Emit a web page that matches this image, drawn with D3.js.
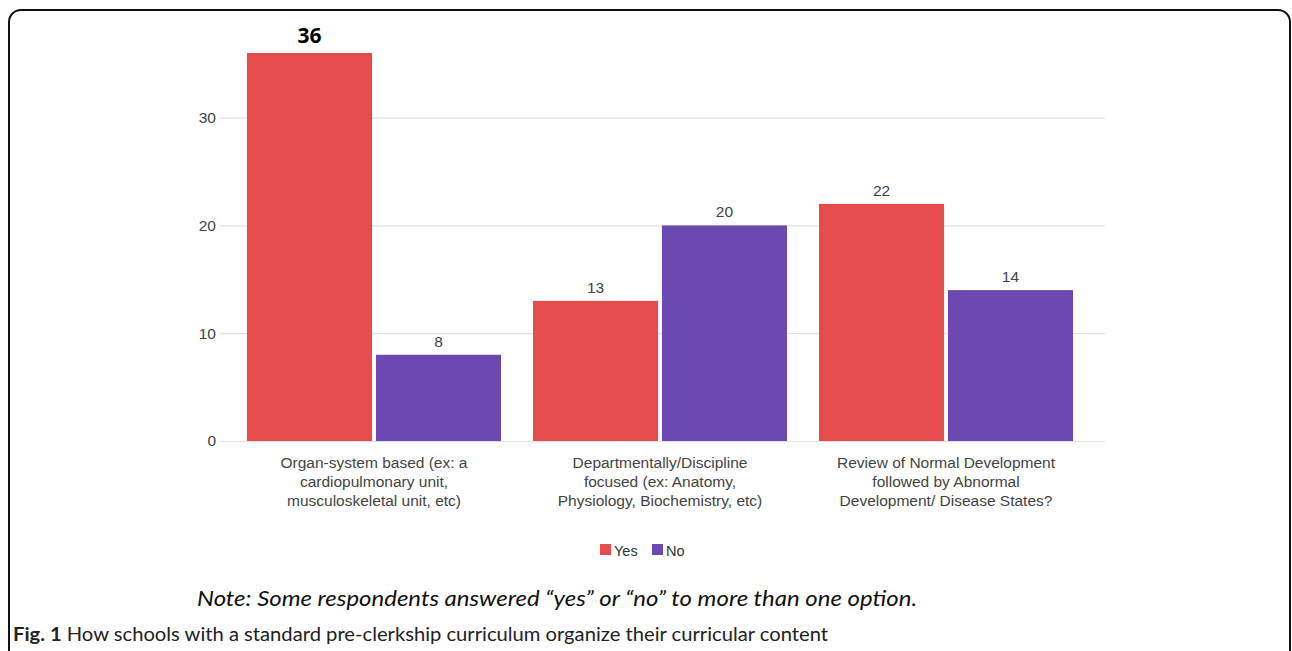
<!DOCTYPE html>
<html>
<head>
<meta charset="utf-8">
<script src="https://cdn.jsdelivr.net/npm/d3@7"></script>
<style>
body { margin: 0; background: #fff; }
svg { display: block; }
</style>
</head>
<body>
<svg width="1292" height="651"></svg>
<script>
// data
var categories = [
  ['Organ-system based (ex: a', 'cardiopulmonary unit,', 'musculoskeletal unit, etc)'],
  ['Departmentally/Discipline', 'focused (ex: Anatomy,', 'Physiology, Biochemistry, etc)'],
  ['Review of Normal Development', 'followed by Abnormal', 'Development/ Disease States?']
];
var seriesNames = ['Yes', 'No'];
var yesValues = [36, 13, 22];
var noValues = [8, 20, 14];
var yTicks = [0, 10, 20, 30];

var colors = {Yes: '#e54c4b', No: '#6c49b0'};

var svg = d3.select('svg');

// outer frame with rounded corners
svg.append('rect')
  .attr('x', 9).attr('y', 10)
  .attr('width', 1281).attr('height', 700)
  .attr('rx', 12).attr('ry', 12)
  .attr('fill', 'none')
  .attr('stroke', '#111')
  .attr('stroke-width', 2);

var rows = categories.map(function(c, i) {
  return {cat: i, Yes: yesValues[i], No: noValues[i]};
});

var y = d3.scaleLinear().domain([0, 36]).range([441, 53]);
var x0 = d3.scaleBand().domain(d3.range(categories.length)).range([231, 1089]).padding(0);
var x1 = d3.scaleBand().domain(seriesNames).range([16, x0.bandwidth() - 16]).paddingInner(0.03);

// grid + y labels
var yAxis = svg.append('g')
  .attr('transform', 'translate(220,0)')
  .call(d3.axisLeft(y).tickValues(yTicks).tickSize(-885).tickPadding(4));
yAxis.select('.domain').remove();
yAxis.selectAll('.tick line').attr('stroke', '#e2e2e2').attr('stroke-width', 1.2);
yAxis.selectAll('.tick text')
  .attr('fill', '#444')
  .style('font-family', 'Liberation Sans, Arial, sans-serif')
  .style('font-size', '15.5px');

// bars
var groups = svg.selectAll('.grp')
  .data(rows)
  .enter().append('g')
  .attr('class', 'grp')
  .attr('transform', function(d) { return 'translate(' + x0(d.cat) + ',0)'; });

groups.selectAll('rect')
  .data(function(d) { return seriesNames.map(function(s) { return {s: s, v: d[s]}; }); })
  .enter().append('rect')
  .attr('x', function(d) { return x1(d.s); })
  .attr('width', x1.bandwidth())
  .attr('y', function(d) { return y(d.v); })
  .attr('height', function(d) { return y(0) - y(d.v); })
  .attr('fill', function(d) { return colors[d.s]; });

// value labels, the biggest one is bold and bigger
groups.selectAll('.val')
  .data(function(d) { return seriesNames.map(function(s) { return {s: s, v: d[s]}; }); })
  .enter().append('text')
  .attr('class', 'val')
  .attr('x', function(d) { return x1(d.s) + x1.bandwidth() / 2; })
  .attr('y', function(d) { return y(d.v) - (d.v === 36 ? 10 : 8); })
  .attr('text-anchor', 'middle')
  .attr('fill', function(d) { return d.v === 36 ? '#000' : '#444'; })
  .style('font-family', function(d) { return d.v === 36 ? 'Open Sans, sans-serif' : 'Liberation Sans, Arial, sans-serif'; })
  .style('font-weight', function(d) { return d.v === 36 ? 'bold' : 'normal'; })
  .style('font-size', function(d) { return d.v === 36 ? '21px' : '15.5px'; })
  .text(function(d) { return d.v; });

// category labels
var catLabels = svg.selectAll('.cat')
  .data(categories)
  .enter().append('text')
  .attr('class', 'cat')
  .attr('text-anchor', 'middle')
  .attr('fill', '#444')
  .style('font-family', 'Liberation Sans, Arial, sans-serif')
  .style('font-size', '15.5px');
catLabels.each(function(lines, i) {
  var t = d3.select(this);
  lines.forEach(function(line, j) {
    t.append('tspan')
      .attr('x', x0(i) + x0.bandwidth() / 2)
      .attr('y', 468 + j * 19)
      .text(line);
  });
});

// legend
var legend = svg.append('g').attr('transform', 'translate(600,544)');
seriesNames.forEach(function(s, i) {
  var lx = i * 52;
  legend.append('rect')
    .attr('x', lx).attr('y', 0)
    .attr('width', 11).attr('height', 11)
    .attr('fill', colors[s]);
  legend.append('text')
    .attr('x', lx + 14).attr('y', 11.5)
    .attr('fill', '#333')
    .style('font-family', 'Liberation Sans, Arial, sans-serif')
    .style('font-size', '14.5px')
    .text(s);
});

// note and caption
svg.append('text')
  .attr('x', 197).attr('y', 606)
  .attr('textLength', 720).attr('lengthAdjust', 'spacingAndGlyphs')
  .style('font-family', 'Lato, sans-serif')
  .style('font-style', 'italic')
  .style('font-size', '21px')
  .attr('fill', '#111')
  .text('Note:  Some respondents answered \u201cyes\u201d or \u201cno\u201d to more than one option.');

var cap = svg.append('text')
  .attr('x', 13).attr('y', 641)
  .attr('textLength', 815).attr('lengthAdjust', 'spacingAndGlyphs')
  .style('font-family', 'Lato, sans-serif')
  .style('font-size', '18.5px')
  .attr('fill', '#222');
cap.append('tspan').style('font-weight', 'bold').text('Fig. 1');
cap.append('tspan').text(' How schools with a standard pre-clerkship curriculum organize their curricular content');
</script>
</body>
</html>
